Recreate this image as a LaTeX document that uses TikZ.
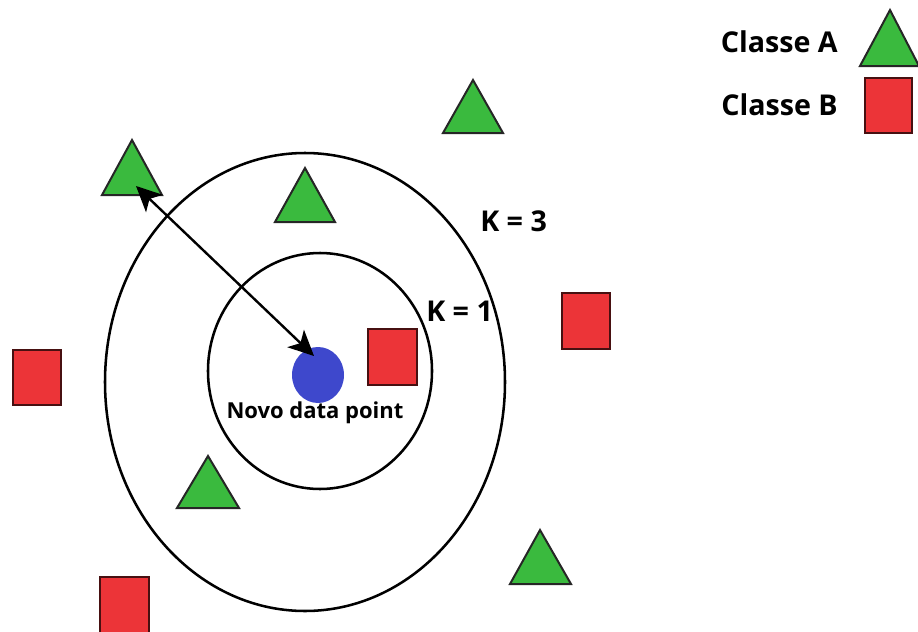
\documentclass[tikz,border=0pt]{standalone}
\usepackage{fontspec}
\setmainfont{Open Sans}
\usetikzlibrary{arrows.meta}
\definecolor{triG}{RGB}{58,186,62}
\definecolor{sqR}{RGB}{236,52,56}
\definecolor{ptB}{RGB}{62,72,204}
\tikzset{
  tri/.style={draw=black!85, line width=1.5pt, fill=triG, line join=miter},
  sq/.style={draw=black!70!sqR, line width=1.2pt, fill=sqR},
  ring/.style={draw=black, line width=1.9pt},
  lbl/.style={font=\fontsize{21.5pt}{25pt}\selectfont\bfseries, text=black, inner sep=0pt},
  small/.style={font=\fontsize{16.5pt}{19pt}\selectfont\bfseries, text=black, inner sep=0pt},
  dist/.style={line width=1.8pt, {Stealth[length=19pt,width=18pt,inset=5pt]}-{Stealth[length=19pt,width=18pt,inset=5pt]}}
}
\begin{document}
\begin{tikzpicture}[x=0.75pt,y=-0.75pt]
\useasboundingbox (0,0) rectangle (918,632);
% rings
\draw[ring] (305,382) ellipse [x radius=200, y radius=229];
\draw[ring] (320,371) ellipse [x radius=112, y radius=118];
% new point
\fill[ptB] (318,375) ellipse [x radius=26, y radius=28];
\coordinate (np) at (314,356);
% triangles
\draw[tri] (132,140) -- (162,195) -- (102,195) -- cycle;
\draw[tri] (305,168) -- (335,222) -- (275,222) -- cycle;
\draw[tri] (473,80) -- (503,133) -- (443,133) -- cycle;
\draw[tri] (208,456) -- (239,508) -- (177,508) -- cycle;
\draw[tri] (540,530) -- (571,584) -- (510,584) -- cycle;
\draw[tri] (890,10) -- (919,66) -- (860,66) -- cycle;
\coordinate (tA) at (136,186);
% squares
\draw[sq] (368,329) rectangle (417,385);
\draw[sq] (13,350) rectangle (61,405);
\draw[sq] (100,577) rectangle (149,633);
\draw[sq] (562,293) rectangle (610,349);
\draw[sq] (865,78) rectangle (912,133);
% arrow
\draw[dist] (tA) -- (np);
% labels
\node[lbl, anchor=west] (k3) at (480,221) {K = 3};
\node[lbl, anchor=west] (k1) at (426,311) {K = 1};
\node[small] (nd) at (315,413) {Novo data point};
\node[lbl, anchor=east] (ca) at (838,42) {Classe A};
\node[lbl, anchor=east] (cb) at (838,105) {Classe B};
\end{tikzpicture}
\end{document}
